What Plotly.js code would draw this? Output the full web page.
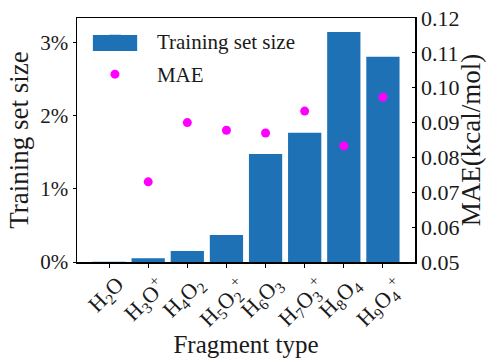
<!DOCTYPE html>
<html>
<head>
<meta charset="utf-8">
<script src="https://cdn.plot.ly/plotly-3.0.1.min.js"></script>
<style>html,body{margin:0;padding:0;background:#fff;}#chart{width:486px;height:360px;}</style>
</head>
<body>
<div id="chart"></div>
<script>
const categories = ["H<sub>2</sub>O", "H<sub>3</sub>O<sup>+</sup>", "H<sub>4</sub>O<sub>2</sub>", "H<sub>5</sub>O<sub>2</sub><sup>+</sup>", "H<sub>6</sub>O<sub>3</sub>", "H<sub>7</sub>O<sub>3</sub><sup>+</sup>", "H<sub>8</sub>O<sub>4</sub>", "H<sub>9</sub>O<sub>4</sub><sup>+</sup>"];
const trainingSetSize = [0.005, 0.05, 0.15, 0.37, 1.48, 1.77, 3.15, 2.81]; // percent
const mae = [null, 0.073, 0.090, 0.0878, 0.0870, 0.0933, 0.0833, 0.0973]; // kcal/mol
const leftTicks = [0, 1, 2, 3];
const leftTickText = ["0%", "1%", "2%", "3%"];
const rightTicks = [0.05, 0.06, 0.07, 0.08, 0.09, 0.10, 0.11, 0.12];

const serif = "Liberation Serif";
const barColor = '#1f71b6';
const textColor = '#1a1a1a';

const traces = [
  {
    type: 'bar', x: categories, y: trainingSetSize, name: 'Training set size',
    marker: {color: barColor}, yaxis: 'y', legendgroup: 'a'
  },
  {
    type: 'scatter', mode: 'markers', x: categories, y: mae, name: 'MAE',
    marker: {color: '#ff00ff', size: 9}, yaxis: 'y2', legendgroup: 'b'
  }
];

// category labels, rotated 45° and centred under each tick (matplotlib style)
const tickAnnotations = categories.map(c => ({
  x: c, xref: 'x', y: 0, yref: 'paper',
  text: c, showarrow: false, textangle: -45,
  xanchor: 'center', yanchor: 'top', xshift: -3, yshift: -7,
  font: {family: serif, size: 22, color: textColor}
}));

const layout = {
  width: 486, height: 360,
  margin: {l: 77, r: 71, t: 18, b: 98, autoexpand: false},
  paper_bgcolor: '#fff', plot_bgcolor: '#fff',
  font: {family: serif, color: textColor, size: 20},
  bargap: 0.15,
  showlegend: true,
  legend: {
    x: -0.012, y: 0.989, xanchor: 'left', yanchor: 'top',
    bgcolor: 'rgba(255,255,255,0)', borderwidth: 0,
    font: {family: serif, size: 21, color: textColor},
    itemwidth: 74,
    traceorder: 'grouped', tracegroupgap: 3
  },
  shapes: [
    // wide legend key for the bar series (legend decoration only)
    {type: 'rect', xref: 'paper', yref: 'paper', x0: 0.047, x1: 0.178, y0: 0.865, y1: 0.93,
     fillcolor: barColor, line: {width: 0}, layer: 'above'}
  ],
  annotations: tickAnnotations,
  xaxis: {
    type: 'category', range: [-0.82, categories.length - 0.18], showticklabels: false,
    showline: true, linecolor: '#000', linewidth: 1.5, mirror: true,
    ticks: 'outside', ticklen: 4, tickcolor: '#000',
    showgrid: false, automargin: false,
    title: {text: 'Fragment type', font: {family: serif, size: 25, color: textColor}, standoff: 69}
  },
  yaxis: {
    range: [0, 3.34], tickmode: 'array', tickvals: leftTicks, ticktext: leftTickText,
    tickfont: {family: serif, size: 21, color: textColor},
    showline: true, linecolor: '#000', linewidth: 1.5,
    ticks: 'outside', ticklen: 3, tickcolor: '#000',
    showgrid: false, zeroline: false, automargin: false,
    title: {text: 'Training set size', font: {family: serif, size: 27, color: textColor}, standoff: 4}
  },
  yaxis2: {
    overlaying: 'y', side: 'right',
    range: [0.05, 0.12], tickmode: 'array', tickvals: rightTicks, tickformat: '.2f',
    tickfont: {family: serif, size: 22, color: textColor},
    showline: true, linecolor: '#000', linewidth: 1.5,
    ticks: 'inside', ticklen: 3, tickcolor: '#000',
    showgrid: false, zeroline: false, automargin: false,
    title: {text: 'MAE(kcal/mol)', font: {family: serif, size: 27, color: textColor}, standoff: -6}
  }
};

Plotly.newPlot('chart', traces, layout, {displayModeBar: false, staticPlot: true});
</script>
</body>
</html>
